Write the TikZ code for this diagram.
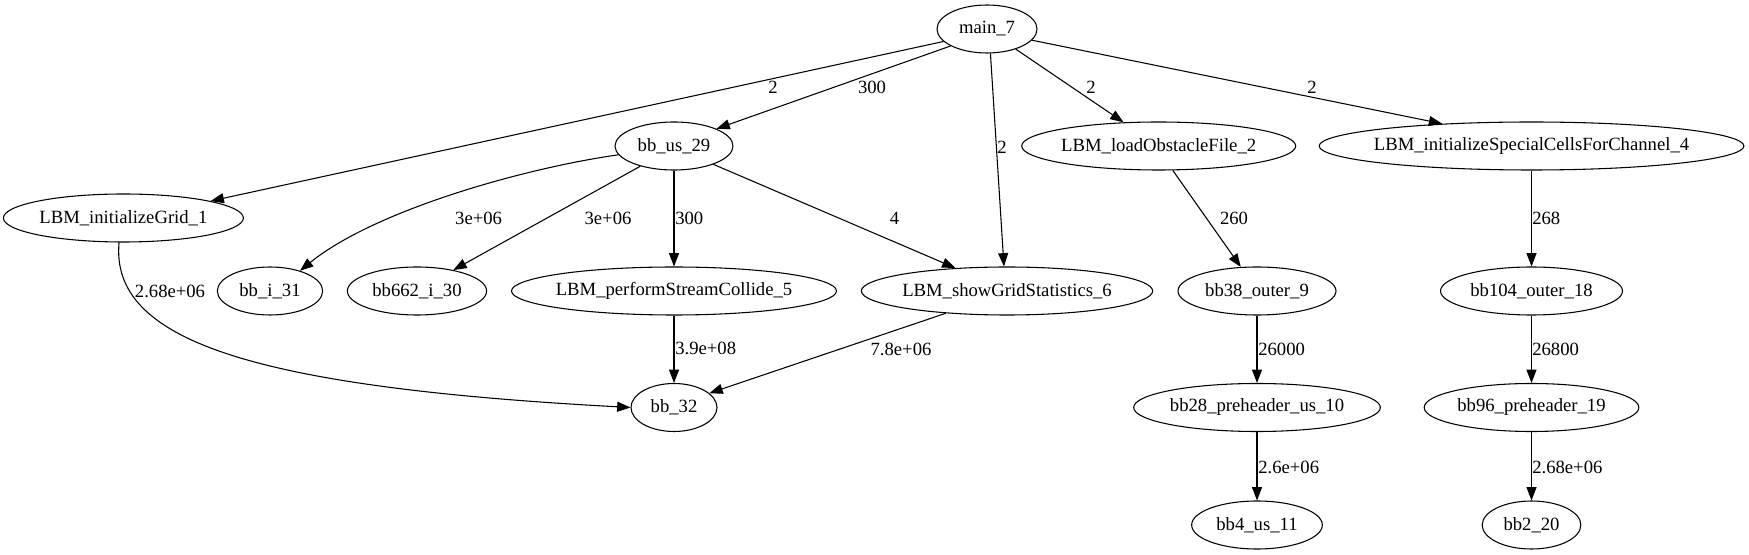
\documentclass[tikz,border=0pt]{standalone}
\usepackage{fontspec}
\setmainfont{Liberation Serif}
\usetikzlibrary{shapes.geometric,arrows.meta}
\newcommand\nodetxt[1]{\makebox[0pt]{#1}}
\begin{document}
\begin{tikzpicture}[x=0.75pt,y=-0.75pt,
  nd/.style={draw, ellipse, line width=0.8pt, inner sep=0pt, minimum height=36pt, minimum width=#1, font=\fontsize{14}{16}\selectfont},
  ed/.style={draw, line width=0.8pt, -{Triangle[length=10pt,width=7.5pt]}},
  lb/.style={font=\fontsize{14}{16}\selectfont, inner sep=0pt}]
\useasboundingbox (0,0) rectangle (1749,555);
% nodes
\node[nd=75pt]     (main)  at (987,29)      {\nodetxt{main\_7}};
\node[nd=88.5pt]   (bbus)  at (674,146)     {\nodetxt{bb\_us\_29}};
\node[nd=205.5pt]  (load)  at (1158.7,146)  {\nodetxt{LBM\_loadObstacleFile\_2}};
\node[nd=318.6pt]  (spec)  at (1531.5,146)  {\nodetxt{LBM\_initializeSpecialCellsForChannel\_4}};
\node[nd=180pt]    (grid)  at (123.4,218)   {\nodetxt{LBM\_initializeGrid\_1}};
\node[nd=79pt]     (bbi)   at (270,291)     {\nodetxt{bb\_i\_31}};
\node[nd=104.4pt]  (bb662) at (417,291)     {\nodetxt{bb662\_i\_30}};
\node[nd=243.75pt] (perf)  at (674,291)     {\nodetxt{LBM\_performStreamCollide\_5}};
\node[nd=218.5pt]  (show)  at (1007,291)    {\nodetxt{LBM\_showGridStatistics\_6}};
\node[nd=118.5pt]  (bb38)  at (1257,291)    {\nodetxt{bb38\_outer\_9}};
\node[nd=136.5pt]  (bb104) at (1531.5,291)  {\nodetxt{bb104\_outer\_18}};
\node[nd=64.5pt]   (bb32)  at (674,407.5)   {\nodetxt{bb\_32}};
\node[nd=185pt]    (bb28)  at (1257,407.5)  {\nodetxt{bb28\_preheader\_us\_10}};
\node[nd=161pt]    (bb96)  at (1531.5,407.5){\nodetxt{bb96\_preheader\_19}};
\node[nd=98pt]     (bb4)   at (1257,525)    {\nodetxt{bb4\_us\_11}};
\node[nd=74pt]     (bb2)   at (1531.5,525)  {\nodetxt{bb2\_20}};
% edges
\draw[ed] (main.196) -- (grid.11);
\draw[ed] (main.205) -- (bbus.22);
\draw[ed] (main.278) -- (show.97);
\draw[ed] (main.325) -- (load.146);
\draw[ed] (main.346) -- (spec.166);
\draw[ed] (bbus.189) .. controls (525,168) and (375,210) .. (bbi.34);
\draw[ed] (bbus.211) -- (bb662.30);
\draw[ed] (bbus) -- (perf);
\draw[ed] (bbus.335) -- (show.156);
\draw[ed] (load.300) -- (bb38.124);
\draw[ed] (spec) -- (bb104);
\draw[ed] (grid.260) .. controls (110,340) and (250,387) .. (bb32.west);
\draw[ed] (perf) -- (bb32);
\draw[ed] (show.200) -- (bb32.22);
\draw[ed] (bb38) -- (bb28);
\draw[ed] (bb28) -- (bb4);
\draw[ed] (bb104) -- (bb96);
\draw[ed] (bb96) -- (bb2);
% labels
\node[lb] (l1)  at (773,87)   {2};
\node[lb] (l2)  at (872,87)   {300};
\node[lb] (l3)  at (1002,147) {2};
\node[lb] (l4)  at (1091,87)  {2};
\node[lb] (l5)  at (1312,87)  {2};
\node[lb] (l6)  at (478.6,218) {3e+06};
\node[lb] (l7)  at (608,218)  {3e+06};
\node[lb, anchor=west] (l8) at (675,218) {300};
\node[lb] (l9)  at (894.6,218) {4};
\node[lb] (l10) at (1234,218) {260};
\node[lb, anchor=west] (l11) at (1532,218) {268};
\node[lb] (l12) at (170,291)  {2.68e+06};
\node[lb, anchor=west] (l13) at (675,348) {3.9e+08};
\node[lb] (l14) at (901,349)  {7.8e+06};
\node[lb, anchor=west] (l15) at (1258,349) {26000};
\node[lb, anchor=west] (l16) at (1258,467) {2.6e+06};
\node[lb, anchor=west] (l17) at (1532,349) {26800};
\node[lb, anchor=west] (l18) at (1532,467) {2.68e+06};
\end{tikzpicture}
\end{document}
